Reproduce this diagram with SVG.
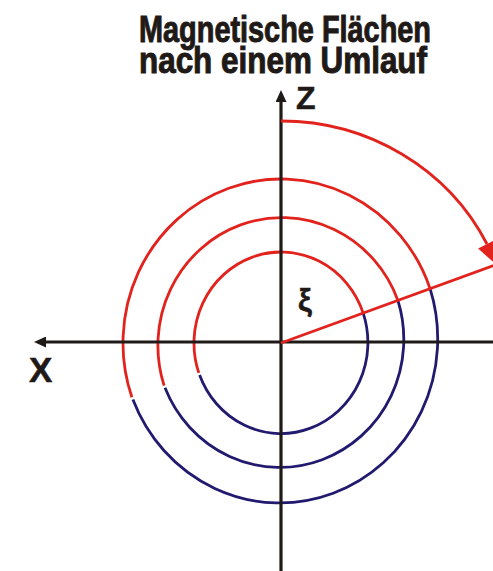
<svg xmlns="http://www.w3.org/2000/svg" width="493" height="571" viewBox="0 0 493 571">
<defs>
<style>
.ax{stroke:#1f1a17;stroke-width:3.2;fill:none}
.red{stroke:#e2231d;stroke-width:2.8;fill:none}
.blue{stroke:#221a6f;stroke-width:2.8;fill:none}
.t{font-family:"Liberation Sans",Arial,sans-serif;font-weight:bold;fill:#1f1a17;stroke:#1f1a17}
</style>
<marker id="ah" viewBox="0 0 12 11" refX="1" refY="5.5" markerWidth="12" markerHeight="11" markerUnits="userSpaceOnUse" orient="auto">
<path d="M0,0 L12,5.5 L0,11 Z" fill="#1f1a17"/>
</marker>
</defs>
<rect width="493" height="571" fill="#fff"/>
<g id="title">
<text class="t" x="285" y="42" font-size="36" text-anchor="middle" textLength="292" lengthAdjust="spacingAndGlyphs" stroke-width="1">Magnetische Flächen</text>
<text class="t" x="283" y="73" font-size="36" text-anchor="middle" textLength="288" lengthAdjust="spacingAndGlyphs" stroke-width="1">nach einem Umlauf</text>
</g>
<g id="surfaces">
<g id="inner">
<path class="red" d="M363.2,313.1 A87,91 0 0 0 198.8,372.9"/>
<path class="blue" d="M199.6,375 A87,91 0 0 0 363.2,313.1"/>
</g>
<g id="middle">
<path class="red" d="M397.9,300.4 A124,128 0 0 0 164.1,385.6"/>
<path class="blue" d="M165,387.8 A124,128 0 0 0 397.9,300.4"/>
</g>
<g id="outer">
<path class="red" d="M430.1,288.7 A158,164 0 0 0 131.9,397.3"/>
<path class="blue" d="M132.9,399.6 A158,164 0 0 0 430.1,288.7"/>
</g>
</g>
<g id="connectors">
<line class="ax" x1="281" y1="571" x2="281" y2="101" marker-end="url(#ah)"/>
<line class="ax" x1="493" y1="342" x2="45" y2="342" marker-end="url(#ah)"/>
<line class="red" x1="281" y1="343" x2="500" y2="263.3"/>
<path class="red" d="M281,121 A230,222 0 0 1 487,244"/>
<polygon points="495.9,239.4 498.9,267.1 478.1,248.6" fill="#e2231d"/>
</g>
<g id="labels">
<text class="t" x="296" y="109" font-size="32" stroke-width="0.5">Z</text>
<text class="t" x="29" y="382" font-size="35" stroke-width="0.5">X</text>
<text class="t" x="298" y="311" font-size="31" stroke-width="0.5">ξ</text>
</g>
</svg>
